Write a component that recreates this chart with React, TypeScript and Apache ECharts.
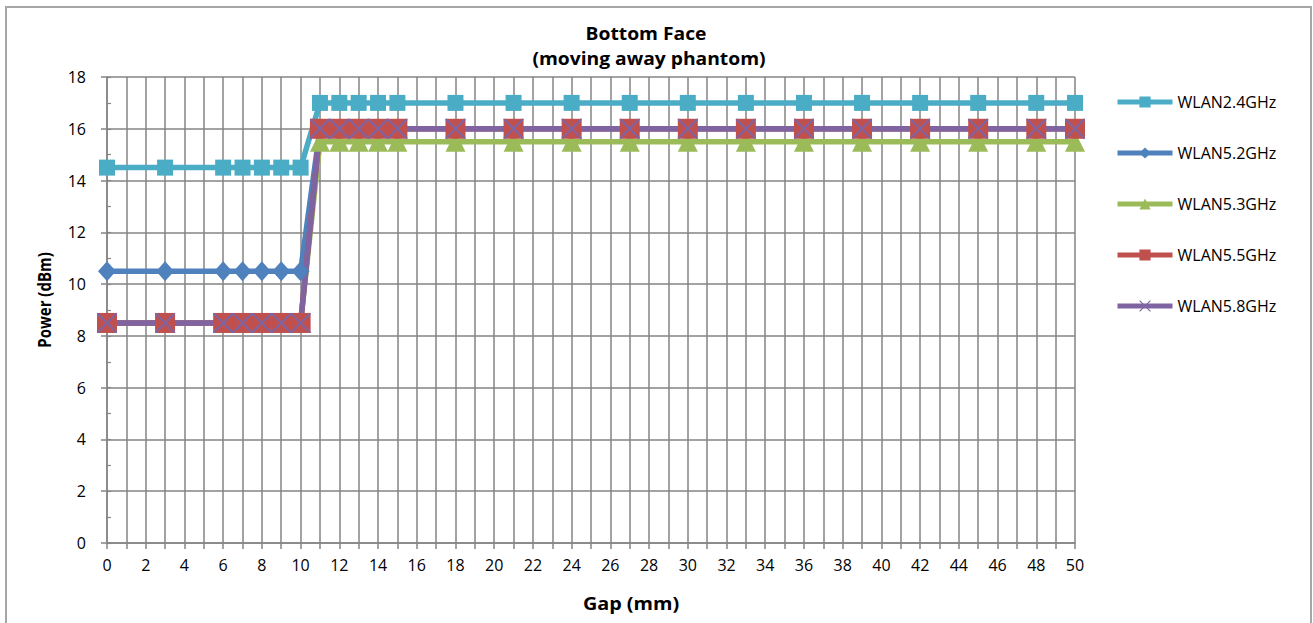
import React, { useEffect, useRef } from "react";
import * as echarts from "echarts";

const gaps = [0, 3, 6, 7, 8, 9, 10, 11, 12, 13, 14, 15, 18, 21, 24, 27, 30, 33, 36, 39, 42, 45, 48, 50];
const wlan24 = [14.5, 14.5, 14.5, 14.5, 14.5, 14.5, 14.5, 17, 17, 17, 17, 17, 17, 17, 17, 17, 17, 17, 17, 17, 17, 17, 17, 17];
const wlan52 = [10.5, 10.5, 10.5, 10.5, 10.5, 10.5, 10.5, 16, 16, 16, 16, 16, 16, 16, 16, 16, 16, 16, 16, 16, 16, 16, 16, 16];
const wlan53 = [8.5, 8.5, 8.5, 8.5, 8.5, 8.5, 8.5, 15.5, 15.5, 15.5, 15.5, 15.5, 15.5, 15.5, 15.5, 15.5, 15.5, 15.5, 15.5, 15.5, 15.5, 15.5, 15.5, 15.5];
const wlan55 = [8.5, 8.5, 8.5, 8.5, 8.5, 8.5, 8.5, 16, 16, 16, 16, 16, 16, 16, 16, 16, 16, 16, 16, 16, 16, 16, 16, 16];
const wlan58 = [8.5, 8.5, 8.5, 8.5, 8.5, 8.5, 8.5, 16, 16, 16, 16, 16, 16, 16, 16, 16, 16, 16, 16, 16, 16, 16, 16, 16];

const seriesNames = ["WLAN2.4GHz", "WLAN5.2GHz", "WLAN5.3GHz", "WLAN5.5GHz", "WLAN5.8GHz"];
const titleLines = ["Bottom Face", "(moving away phantom)"];
const xTitle = "Gap (mm)";
const yTitle = "Power (dBm)";

const FONT = "'Open Sans', 'Liberation Sans', sans-serif";
const GRID = "#858585";
const XSYM =
  "path://M0,0 L1.5,0 L10,8.5 L18.5,0 L20,0 L20,1.5 L11.5,10 L20,18.5 L20,20 L18.5,20 L10,11.5 L1.5,20 L0,20 L0,18.5 L8.5,10 L0,1.5 Z";

export default function App() {
  const ref = useRef<HTMLDivElement>(null);
  useEffect(() => {
    if (!ref.current) return;
    const chart = echarts.init(ref.current, undefined, { renderer: "svg" });
    const pair = (ys: number[]) => gaps.map((g, i) => [g, ys[i]]);
    const mk = (name: string, ys: number[], color: string, symbol: string, size: any) => ({
      name,
      type: "line",
      data: pair(ys),
      clip: false,
      symbol,
      symbolSize: size,
      showAllSymbol: true,
      lineStyle: { color, width: 5.5 },
      itemStyle: { color, borderWidth: 0 },
      emphasis: { disabled: true },
    });
    const boldText = (text: string, x: number, y: number, size: number, sx = 1, rot = 0, sy = 1) => ({
      type: "text",
      x,
      y,
      scaleX: sx,
      scaleY: sy,
      rotation: rot,
      style: { text, fontFamily: FONT, fontSize: size, fontWeight: "bold", fill: "#000", align: "center", verticalAlign: "middle" },
    });
    chart.setOption({
      animation: false,
      backgroundColor: "#ffffff",
      textStyle: { fontFamily: FONT },
      grid: { left: 107, right: 238, top: 77, bottom: 80, containLabel: false },
      legend: {
        orient: "vertical",
        left: 1115,
        top: 94,
        padding: 0,
        itemWidth: 55,
        itemHeight: 14,
        itemGap: 35,
        data: seriesNames,
        lineStyle: { width: 5 },
        textStyle: { fontFamily: FONT, fontSize: 16, lineHeight: 16, color: "#000" },
        selectedMode: false,
      },
      xAxis: {
        type: "value",
        min: 0,
        max: 50,
        interval: 1,
        axisLine: { lineStyle: { color: GRID, width: 1.5 } },
        axisTick: { show: true, length: 6, lineStyle: { color: GRID, width: 1.5 } },
        axisLabel: {
          fontFamily: FONT,
          fontSize: 16,
          color: "#000",
          margin: 14,
          formatter: (v: number) => (v % 2 === 0 ? String(v) : ""),
        },
        splitLine: { show: true, lineStyle: { color: GRID, width: 1.5 } },
      },
      yAxis: [
        {
          type: "value",
          min: 0,
          max: 18,
          interval: 2,
          axisLine: { show: true, lineStyle: { color: GRID, width: 1.5 } },
          axisTick: { show: true, length: 6, lineStyle: { color: GRID, width: 1.5 } },
          axisLabel: { fontFamily: FONT, fontSize: 16, color: "#000", margin: 21 },
          splitLine: { show: true, lineStyle: { color: GRID, width: 1.5 } },
        },
        {
          type: "value",
          position: "left",
          min: 0,
          max: 18,
          interval: 1,
          axisLine: { show: false },
          axisTick: { show: true, inside: true, length: 4, lineStyle: { color: GRID, width: 1.2 } },
          axisLabel: { show: false },
          splitLine: { show: false },
        },
      ],
      graphic: [
        {
          type: "rect",
          shape: { x: 6, y: 7, width: 1305, height: 640 },
          style: { fill: "none", stroke: "#a6a6a6", lineWidth: 2 },
          silent: true,
        },
        boldText(titleLines[0], 646, 33, 18, 1.07),
        boldText(titleLines[1], 649, 58, 18, 1.07),
        boldText(xTitle, 631, 603, 18, 1.1),
        boldText(yTitle, 45, 300, 15, 1, Math.PI / 2, 1.15),
      ],
      series: [
        mk(seriesNames[0], wlan24, "#4BACC6", "rect", 16),
        mk(seriesNames[1], wlan52, "#4F81BD", "diamond", [18, 20]),
        mk(seriesNames[2], wlan53, "#9BBB59", "triangle", 20),
        mk(seriesNames[3], wlan55, "#C0504D", "rect", 20),
        mk(seriesNames[4], wlan58, "#8064A2", XSYM, 20),
      ],
    });
    return () => chart.dispose();
  }, []);
  return (
    <div
      ref={ref}
      style={{ position: "absolute", left: 0, top: 0, width: 1313, height: 623, background: "#fff" }}
    />
  );
}
